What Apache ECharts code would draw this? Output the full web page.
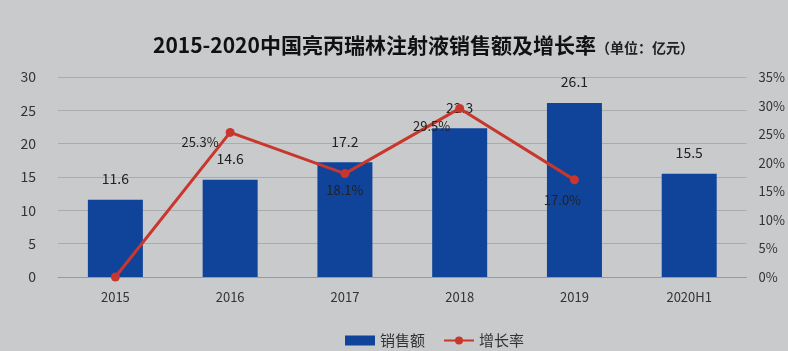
<!DOCTYPE html>
<html>
<head>
<meta charset="utf-8">
<script src="https://cdn.jsdelivr.net/npm/echarts@6/dist/echarts.min.js"></script>
<style>
  html, body { margin: 0; padding: 0; background: #c9cacb; }
  #main { width: 788px; height: 351px; }
</style>
</head>
<body>
<div id="main"></div>
<script>
// data
var years = ['2015', '2016', '2017', '2018', '2019', '2020H1'];
var sales = [11.6, 14.6, 17.2, 22.3, 26.1, 15.5];
var growth = [0, 25.3, 18.1, 29.5, 17.0, null];
var leftTicks = [0, 5, 10, 15, 20, 25, 30];
var rightTicks = [0, 5, 10, 15, 20, 25, 30, 35];

// where each growth label sits relative to its point
var growthLabelPos = ['bottom', 'left', 'bottom', 'left', 'bottom', 'bottom'];
var growthLabelOffset = [[0, 0], [-2, 10], [0, 0], [0, 18], [-12, 4], [0, 0]];

var chartDom = document.getElementById('main');
var chart = echarts.init(chartDom);

var growthData = growth.map(function (v, i) {
  var item = { value: v, label: { position: growthLabelPos[i], offset: growthLabelOffset[i] } };
  if (i === 0) item.label.show = false;
  return item;
});

var option = {
  backgroundColor: '#c9cacb',
  textStyle: { fontFamily: '"Noto Sans CJK SC", "Noto Sans", sans-serif' },
  title: {
    text: '{a|2015-2020中国亮丙瑞林注射液销售额及增长率}{b|（单位：亿元）}',
    left: 148,
    top: 30,
    textStyle: {
      rich: {
        a: { fontSize: 21, fontWeight: 'bold', color: '#111' },
        b: { fontSize: 14, fontWeight: 'bold', color: '#222', padding: [4, 0, 0, 0] }
      }
    }
  },
  legend: {
    bottom: -2,
    left: 340,
    itemGap: 18,
    textStyle: { fontSize: 15, color: '#333' },
    data: [
      { name: '销售额', icon: 'rect', itemStyle: { color: '#10449a' } },
      { name: '增长率' }
    ],
    itemWidth: 30,
    itemHeight: 10
  },
  grid: {
    top: 77,
    left: 58,
    right: 40,
    bottom: 74
  },
  xAxis: {
    type: 'category',
    data: years,
    axisLine: { lineStyle: { color: '#999' } },
    axisTick: { show: false },
    axisLabel: { color: '#333', fontSize: 13, margin: 14 }
  },
  yAxis: [
    {
      type: 'value',
      min: leftTicks[0],
      max: leftTicks[leftTicks.length - 1],
      interval: 5,
      axisLine: { show: false },
      axisTick: { show: false },
      axisLabel: { color: '#333', fontSize: 14, margin: 22 },
      splitLine: { lineStyle: { color: '#a9abad' } }
    },
    {
      type: 'value',
      min: rightTicks[0],
      max: rightTicks[rightTicks.length - 1],
      interval: 5,
      axisLine: { show: false },
      axisTick: { show: false },
      axisLabel: { color: '#333', fontSize: 13, formatter: '{value}%', margin: 12 },
      splitLine: { show: false }
    }
  ],
  series: [
    {
      name: '销售额',
      type: 'bar',
      data: sales,
      barWidth: 55,
      itemStyle: { color: '#10449a' },
      label: {
        show: true,
        position: 'top',
        distance: 14,
        color: '#222',
        fontSize: 14
      }
    },
    {
      name: '增长率',
      type: 'line',
      yAxisIndex: 1,
      data: growthData,
      symbol: 'circle',
      symbolSize: 9,
      lineStyle: { color: '#c8372d', width: 3 },
      itemStyle: { color: '#c8372d' },
      label: {
        show: true,
        color: '#222',
        fontSize: 13,
        formatter: function (p) {
          return p.value == null ? '' : p.value.toFixed(1) + '%';
        }
      }
    }
  ]
};

option && chart.setOption(option);
</script>
</body>
</html>
